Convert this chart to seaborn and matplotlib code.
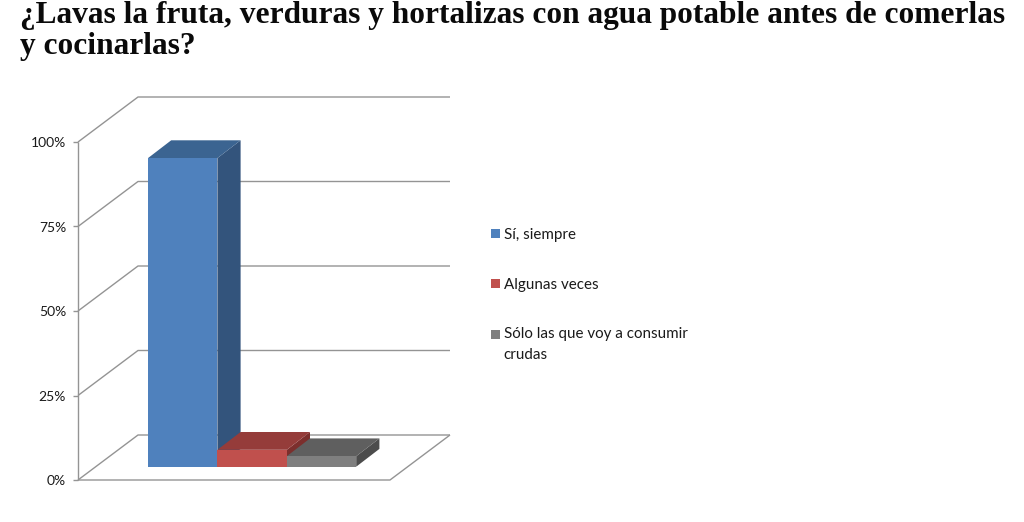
import matplotlib
matplotlib.use('Agg')
import matplotlib.pyplot as plt
import pandas as pd
import seaborn as sns
from matplotlib.patches import Polygon

titulo = '¿Lavas la fruta, verduras y hortalizas con agua potable antes de comerlas\ny cocinarlas?'
respuestas = ['Sí, siempre', 'Algunas veces', 'Sólo las que voy a consumir\ncrudas']
porcentajes = [91.3, 5.0, 3.1]
ticks_y = [0, 25, 50, 75, 100]
etiquetas_y = ['0%', '25%', '50%', '75%', '100%']

colores_frente = ['#4f81bd', '#c0504d', '#7f7f7f']
colores_arriba = ['#3b6491', '#953c3a', '#5f5f5f']
colores_lado = ['#33547c', '#7c2f2d', '#4c4c4c']
color_rejilla = '#949494'

# escala de pixeles a datos
PX_X = 69.4
PX_Y = 3.38
ORIGEN_X = 182.7
ORIGEN_Y = 466.7

sns.set_theme(style='white')
plt.rcParams['font.family'] = ['Lato', 'DejaVu Sans']

df = pd.DataFrame({'respuesta': respuestas, 'pct': porcentajes})

fig = plt.figure(figsize=(10.24, 5.22), dpi=100)
ax = fig.add_axes([0, 0, 1, 1])
sns.barplot(data=df, x='respuesta', y='pct', hue='respuesta', order=respuestas, hue_order=respuestas,
            palette=colores_frente, width=1, saturation=1, linewidth=0, legend=True, ax=ax)

ax.set_xlim(-ORIGEN_X / PX_X, (1024 - ORIGEN_X) / PX_X)
ax.set_ylim((ORIGEN_Y - 522) / PX_Y, ORIGEN_Y / PX_Y)
ax.axis('off')

# paredes y suelo del grafico 3D
x0 = (78 - ORIGEN_X) / PX_X
y0 = (ORIGEN_Y - 480) / PX_Y
fondo_x = 60 / PX_X
fondo_y = 45 / PX_Y
ancho = 312 / PX_X
estilo = dict(color=color_rejilla, lw=1.0, zorder=1, solid_capstyle='butt')

for t, etiqueta in zip(ticks_y, etiquetas_y):
    y = y0 + t
    ax.plot([x0, x0 + fondo_x, x0 + fondo_x + ancho], [y, y + fondo_y, y + fondo_y], **estilo)
    ax.plot([x0 - 5 / PX_X, x0], [y, y], **estilo)
    ax.text(x0 - 12 / PX_X, y - 0.3, etiqueta, ha='right', va='center', fontsize=10, color='#1a1a1a')

ax.plot([x0, x0], [y0, y0 + ticks_y[-1]], **estilo)
ax.plot([x0, x0 + ancho, x0 + ancho + fondo_x], [y0, y0, y0 + fondo_y], **estilo)

# caras de arriba y de lado de cada barra
prof_x = 23.2 / PX_X
prof_y = 17.8 / PX_Y
barras = [p for p in ax.patches if p.get_height() > 0]
barras.sort(key=lambda p: p.get_x())
for i, p in enumerate(barras):
    izq = p.get_x()
    der = izq + p.get_width()
    alto = p.get_height()
    p.set_zorder(10)
    ax.add_patch(Polygon([(der, 0), (der + prof_x, prof_y), (der + prof_x, alto + prof_y), (der, alto)],
                         closed=True, fc=colores_lado[i], ec='none', zorder=3 + i))
    ax.add_patch(Polygon([(izq, alto), (izq + prof_x, alto + prof_y), (der + prof_x, alto + prof_y), (der, alto)],
                         closed=True, fc=colores_arriba[i], ec='none', zorder=3 + i))

handles, labels = ax.get_legend_handles_labels()
leyenda = ax.legend(handles, labels, loc='upper left', bbox_to_anchor=(491 / 1024, 1 - 228 / 522), frameon=False,
                    fontsize=10.9, labelspacing=2.36, handlelength=0.6, handleheight=0.6, handletextpad=0.25,
                    labelcolor='#1a1a1a', borderpad=0, borderaxespad=0)
# el texto largo ocupa dos lineas, el cuadrado va con la primera
leyenda.get_texts()[2].set_linespacing(1.55)
cuadro = leyenda.legend_handles[2]
cuadro.set_y(cuadro.get_y() + 7.2)

fig.text(20 / 1024, 1 - 31 / 522, titulo, ha='left', va='center', fontsize=22.6, fontweight='bold',
         family='Liberation Serif', color='#0a0a0a', linespacing=1.13, transform=fig.transFigure)

fig.savefig('out.png', dpi=100, facecolor='white')
